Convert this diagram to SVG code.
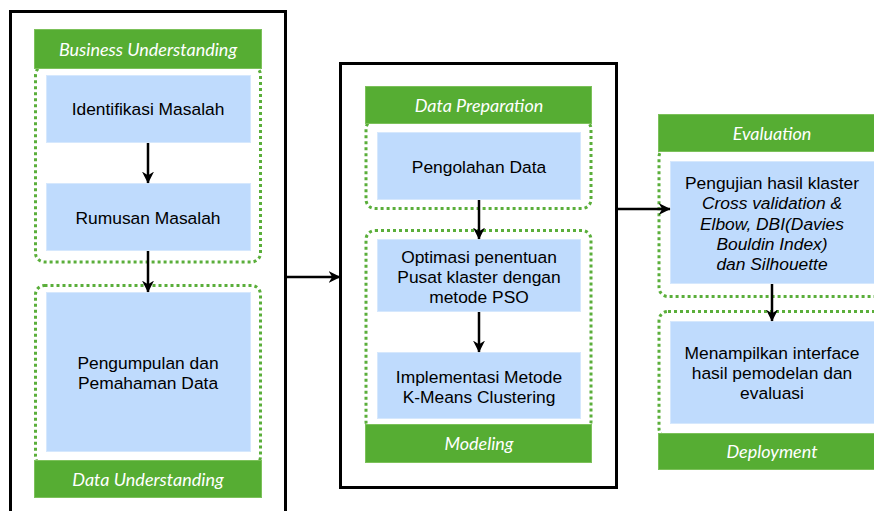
<svg xmlns="http://www.w3.org/2000/svg" width="874" height="511" viewBox="0 0 874 511">
<defs>
<style>
.frame{fill:none;stroke:#000;stroke-width:3}
.hdr{fill:#56ad33;stroke:#7cc15a;stroke-width:1}
.dot{fill:none;stroke:#5aae3a;stroke-width:3;stroke-dasharray:3 3}
.box{fill:#bfdbfd;stroke:#d6e8fd;stroke-width:1}
.t{font-family:"Liberation Sans",Arial,sans-serif;font-size:17.4px;fill:#000;text-anchor:middle}
.i{font-style:italic}
.h{font-family:Lato,"Open Sans",sans-serif;font-style:italic;font-weight:normal;font-size:18px;fill:#fff;text-anchor:middle}
.c{fill:none;stroke:#000;stroke-width:2.5}
</style>
<marker id="a" viewBox="0 0 10 10" refX="9.5" refY="5" markerWidth="12" markerHeight="12" orient="auto" markerUnits="userSpaceOnUse">
<path d="M0,0 L10,5 L0,10 L3,5 z" fill="#000"/>
</marker>
</defs>

<g id="frame-left"><rect class="frame" x="10.5" y="11.5" width="275" height="520"/></g>
<g id="frame-middle"><rect class="frame" x="340.5" y="63.5" width="276" height="424"/></g>

<g id="business-understanding">
<rect class="dot" x="35.5" y="66" width="225" height="196" rx="9"/>
<rect class="hdr" x="34.5" y="29.5" width="227" height="39"/>
<text class="h" x="148" y="55.5">Business Understanding</text>
</g>
<g id="identifikasi-masalah">
<rect class="box" x="46.5" y="75.5" width="204" height="67"/>
<text class="t" x="148" y="115">Identifikasi Masalah</text>
</g>
<g id="rumusan-masalah">
<rect class="box" x="46.5" y="183.5" width="204" height="67"/>
<text class="t" x="148" y="224">Rumusan Masalah</text>
</g>

<g id="data-understanding">
<rect class="dot" x="35.5" y="285.5" width="225" height="180" rx="9"/>
<rect class="hdr" x="34.5" y="460.5" width="227" height="37"/>
<text class="h" x="148" y="486">Data Understanding</text>
</g>
<g id="pengumpulan-data">
<rect class="box" x="46.5" y="292.5" width="204" height="159"/>
<text class="t" x="148" y="369">Pengumpulan dan</text>
<text class="t" x="148" y="389">Pemahaman Data</text>
</g>

<g id="data-preparation">
<rect class="dot" x="366" y="120" width="225" height="88.5" rx="9"/>
<rect class="hdr" x="365.5" y="86.5" width="226" height="37"/>
<text class="h" x="479" y="112">Data Preparation</text>
</g>
<g id="pengolahan-data">
<rect class="box" x="377.5" y="132.5" width="203" height="67"/>
<text class="t" x="479" y="173">Pengolahan Data</text>
</g>

<g id="modeling">
<rect class="dot" x="366" y="230.5" width="225" height="200" rx="9"/>
<rect class="hdr" x="365.5" y="424.5" width="226" height="38"/>
<text class="h" x="479" y="450">Modeling</text>
</g>
<g id="optimasi-pso">
<rect class="box" x="377.5" y="239.5" width="203" height="72"/>
<text class="t" x="479" y="263">Optimasi penentuan</text>
<text class="t" x="479" y="283">Pusat klaster dengan</text>
<text class="t" x="479" y="303">metode PSO</text>
</g>
<g id="implementasi-kmeans">
<rect class="box" x="377.5" y="352.5" width="203" height="66"/>
<text class="t" x="479" y="383">Implementasi Metode</text>
<text class="t" x="479" y="403">K-Means Clustering</text>
</g>

<g id="evaluation">
<rect class="dot" x="659" y="148" width="226" height="148.5" rx="9"/>
<rect class="hdr" x="658.5" y="114.5" width="228" height="37"/>
<text class="h" x="772" y="140">Evaluation</text>
</g>
<g id="pengujian-klaster">
<rect class="box" x="670.5" y="161.5" width="204" height="122"/>
<text class="t" x="772" y="189">Pengujian hasil klaster</text>
<text class="t i" x="772" y="209">Cross validation &amp;</text>
<text class="t i" x="772" y="229.5">Elbow, DBI(Davies</text>
<text class="t i" x="772" y="250">Bouldin Index)</text>
<text class="t i" x="772" y="270">dan Silhouette</text>
</g>

<g id="deployment">
<rect class="dot" x="659" y="311.5" width="226" height="126" rx="9"/>
<rect class="hdr" x="658.5" y="433.5" width="228" height="36"/>
<text class="h" x="772" y="458">Deployment</text>
</g>
<g id="menampilkan-interface">
<rect class="box" x="670.5" y="321.5" width="204" height="102"/>
<text class="t" x="772" y="359">Menampilkan interface</text>
<text class="t" x="772" y="379">hasil pemodelan dan</text>
<text class="t" x="772" y="399">evaluasi</text>
</g>

<g id="connectors">
<line class="c" x1="148" y1="143" x2="148" y2="183" marker-end="url(#a)"/>
<line class="c" x1="148" y1="251" x2="148" y2="292" marker-end="url(#a)"/>
<line class="c" x1="479" y1="200" x2="479" y2="239" marker-end="url(#a)"/>
<line class="c" x1="479" y1="312" x2="479" y2="352" marker-end="url(#a)"/>
<line class="c" x1="772" y1="284" x2="772" y2="321" marker-end="url(#a)"/>
<line class="c" x1="286" y1="277" x2="340" y2="277" marker-end="url(#a)"/>
<line class="c" x1="617" y1="209" x2="670" y2="209" marker-end="url(#a)"/>
</g>
</svg>
